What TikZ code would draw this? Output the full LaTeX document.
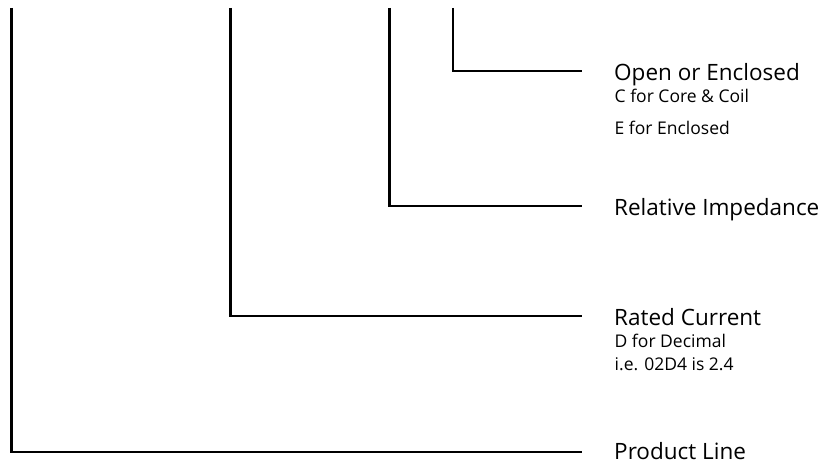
\documentclass[tikz,border=0pt]{standalone}
\usepackage{fontspec}
\setmainfont{Open Sans}
\begin{document}
\begin{tikzpicture}[x=1bp,y=-1bp,
  wire/.style={line width=2.3bp,black},
  bigtxt/.style={anchor=base west,inner sep=0pt,font=\fontsize{22.5bp}{27bp}\selectfont},
  smalltxt/.style={anchor=base west,inner sep=0pt,font=\fontsize{17.5bp}{21bp}\selectfont}]
\useasboundingbox (0,0) rectangle (827,463);
% top ends
\coordinate (t1) at (11.5,8);
\coordinate (t2) at (230.5,8);
\coordinate (t3) at (389.5,8);
\coordinate (t4) at (453,8);
% right ends
\coordinate (e1) at (582,452);
\coordinate (e2) at (582,316);
\coordinate (e3) at (582,206);
\coordinate (e4) at (582,71);
\draw[wire] (t1) |- (e1);
\draw[wire] (t2) |- (e2);
\draw[wire] (t3) |- (e3);
\draw[wire] (t4) |- (e4);
% labels
\node[bigtxt] (open) at (614,80.7) {Open or Enclosed};
\node[smalltxt] (core) at (614.5,102.7) {C for Core \& Coil};
\node[smalltxt] (encl) at (614.5,135) {E for Enclosed};
\node[bigtxt] (imp) at (614,216) {Relative Impedance};
\node[bigtxt] (rated) at (614,326) {Rated Current};
\node[smalltxt] (dec) at (614.5,348) {D for Decimal};
\node[smalltxt] (ie) at (614.5,370.7) {i.e. 02D4 is 2.4};
\node[bigtxt] (prod) at (614,459.5) {Product Line};
\end{tikzpicture}
\end{document}
